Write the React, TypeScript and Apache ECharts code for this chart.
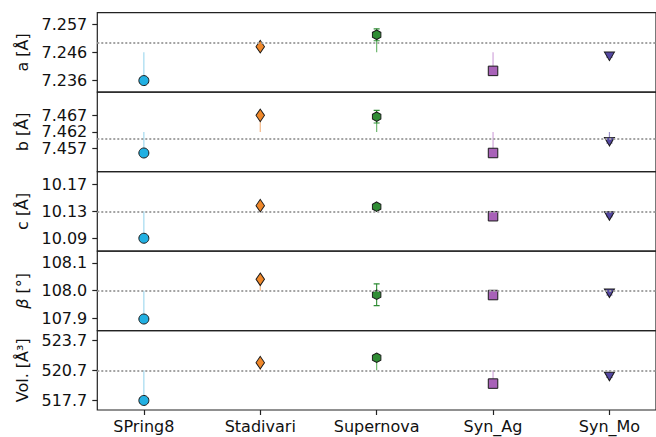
import React, { useEffect, useRef } from "react";
import * as echarts from "echarts";

// Instruments compared in every panel
const instruments = ["SPring8", "Stadivari", "Supernova", "Syn_Ag", "Syn_Mo"];

// Refined lattice parameters per instrument
const aValues = [7.2359, 7.2485, 7.2529, 7.2395, 7.2449];
const bValues = [7.4557, 7.467, 7.4666, 7.4557, 7.4591];
const cValues = [10.09, 10.1383, 10.1368, 10.1227, 10.1229];
const betaValues = [107.8984, 108.041, 107.9856, 107.9845, 107.9907];
const volValues = [517.7, 521.46, 521.95, 519.38, 520.08];

// Standard uncertainties
const aErrors = [0.0003, 0.0004, 0.0022, 0.0003, 0.0003];
const bErrors = [0.0003, 0.0004, 0.0019, 0.0003, 0.0004];
const cErrors = [0.001, 0.001, 0.001, 0.001, 0.001];
const betaErrors = [0.003, 0.004, 0.039, 0.003, 0.006];
const volErrors = [0.1, 0.15, 0.3, 0.1, 0.1];

// Reference value of each parameter (dotted line) and tick spacing
const refValues = [7.2464, 7.462, 10.13, 108.0, 520.7];
const tickSteps = [0.0105, 0.005, 0.04, 0.1, 3];
const tickDecimals = [3, 3, 2, 1, 1];
const yMins = [7.2316, 7.45011, 10.071, 107.8571, 516.75];
const yMaxs = [7.2611, 7.47395, 10.1888, 108.1422, 524.66];
const axisNames = ["a [Å]", "b [Å]", "c [Å]", "{i|β} [°]", "Vol. [Å³]"];

const panelValues = [aValues, bValues, cValues, betaValues, volValues];
const panelErrors = [aErrors, bErrors, cErrors, betaErrors, volErrors];

const markerColors = ["#22b0e2", "#f0882a", "#2f8c34", "#a862b8", "#5447a2"];
const stemColors = ["#a3d9ef", "#f5b886", "#6fb86f", "#d2a6dc", "#9d93cb"];
const markerSymbols = [
  "circle",
  "diamond",
  "path://M0,-10 L8.66,-5 L8.66,5 L0,10 L-8.66,5 L-8.66,-5 Z",
  "rect",
  "triangle",
];
const markerSizes: any[] = [10, [8.5, 12.5], [8.5, 9.5], 9.5, [10, 8.5]];
const markerRotations = [0, 0, 0, 0, 180];

const FONT = "DejaVu Sans";
const TOP = 12.7;
const PANEL_H = 79.46;
const LEFT = 97.3;
const WIDTH = 562;

export default function App() {
  const ref = useRef<HTMLDivElement>(null);

  useEffect(() => {
    if (!ref.current) return;
    const chart = echarts.init(ref.current, null, { renderer: "svg" });

    const grids: any[] = [];
    const xAxes: any[] = [];
    const yAxes: any[] = [];
    const series: any[] = [];

    panelValues.forEach((values, p) => {
      const isLast = p === panelValues.length - 1;
      const r = refValues[p];
      const d = tickSteps[p];
      const ticks = [r - d, r, r + d];

      grids.push({
        left: LEFT,
        top: TOP + p * PANEL_H,
        width: WIDTH,
        height: PANEL_H,
        show: true,
        borderColor: "#222",
        borderWidth: 1.2,
        backgroundColor: "transparent",
      });

      xAxes.push({
        type: "value",
        gridIndex: p,
        position: "bottom",
        min: -0.4,
        max: 4.4,
        axisLine: { show: false, onZero: false },
        splitLine: { show: false },
        axisTick: {
          show: isLast,
          customValues: [0, 1, 2, 3, 4],
          length: 5,
          lineStyle: { color: "#222", width: 1.2 },
        },
        axisLabel: {
          show: isLast,
          customValues: [0, 1, 2, 3, 4],
          margin: 8,
          fontFamily: FONT,
          fontSize: 16,
          color: "#111",
          formatter: (v: number) => instruments[Math.round(v)] ?? "",
        },
      });

      yAxes.push({
        type: "value",
        gridIndex: p,
        position: "left",
        min: yMins[p],
        max: yMaxs[p],
        name: axisNames[p],
        nameLocation: "middle",
        nameGap: 63,
        nameRotate: 90,
        nameTextStyle: {
          fontFamily: FONT,
          fontSize: 16,
          color: "#111",
          rich: {
            i: { fontFamily: FONT, fontSize: 16, fontStyle: "italic", color: "#111" },
          },
        },
        axisLine: { show: false, onZero: false },
        splitLine: { show: false },
        axisTick: {
          show: true,
          customValues: ticks,
          length: 5,
          lineStyle: { color: "#222", width: 1.2 },
        },
        axisLabel: {
          customValues: ticks,
          margin: 10,
          fontFamily: FONT,
          fontSize: 16,
          lineHeight: 15,
          color: "#111",
          formatter: (v: number) => v.toFixed(tickDecimals[p]),
        },
      });

      // stems from the reference line plus error bars with caps
      series.push({
        type: "custom",
        xAxisIndex: p,
        yAxisIndex: p,
        z: 2,
        clip: true,
        encode: { x: 0, y: 1 },
        data: values.map((v, i) => [i, v, panelErrors[p][i], r, i]),
        renderItem: (_params: any, api: any) => {
          const x = api.value(0);
          const v = api.value(1);
          const e = api.value(2);
          const rv = api.value(3);
          const idx = api.value(4);
          const pRef = api.coord([x, rv]);
          const pV = api.coord([x, v]);
          const pHi = api.coord([x, v + e]);
          const pLo = api.coord([x, v - e]);
          const cx = pV[0];
          const col = markerColors[idx];
          return {
            type: "group",
            children: [
              {
                type: "line",
                shape: { x1: pRef[0], y1: pRef[1], x2: cx, y2: pV[1] },
                style: { stroke: stemColors[idx], lineWidth: 1.2 },
              },
              {
                type: "line",
                shape: { x1: cx, y1: pHi[1], x2: cx, y2: pLo[1] },
                style: { stroke: col, lineWidth: 1.1 },
              },
              {
                type: "line",
                shape: { x1: cx - 3, y1: pHi[1], x2: cx + 3, y2: pHi[1] },
                style: { stroke: col, lineWidth: 1.1 },
              },
              {
                type: "line",
                shape: { x1: cx - 3, y1: pLo[1], x2: cx + 3, y2: pLo[1] },
                style: { stroke: col, lineWidth: 1.1 },
              },
            ],
          };
        },
        markLine: {
          silent: true,
          symbol: "none",
          label: { show: false },
          lineStyle: { type: [2, 2], color: "#a3a3a3", width: 1.8 },
          data: [{ yAxis: r }],
        },
      });

      series.push({
        type: "scatter",
        xAxisIndex: p,
        yAxisIndex: p,
        z: 3,
        data: values.map((v, i) => ({
          value: [i, v],
          symbol: markerSymbols[i],
          symbolSize: markerSizes[i],
          symbolRotate: markerRotations[i],
          itemStyle: {
            color: markerColors[i],
            borderColor: "#1a1a1a",
            borderWidth: 1,
            opacity: 1,
          },
        })),
      });
    });

    chart.setOption({
      animation: false,
      backgroundColor: "#ffffff",
      grid: grids,
      xAxis: xAxes,
      yAxis: yAxes,
      series,
    });

    return () => chart.dispose();
  }, []);

  return (
    <div
      ref={ref}
      style={{ position: "fixed", left: 0, top: 0, width: 656, height: 437 }}
    />
  );
}
